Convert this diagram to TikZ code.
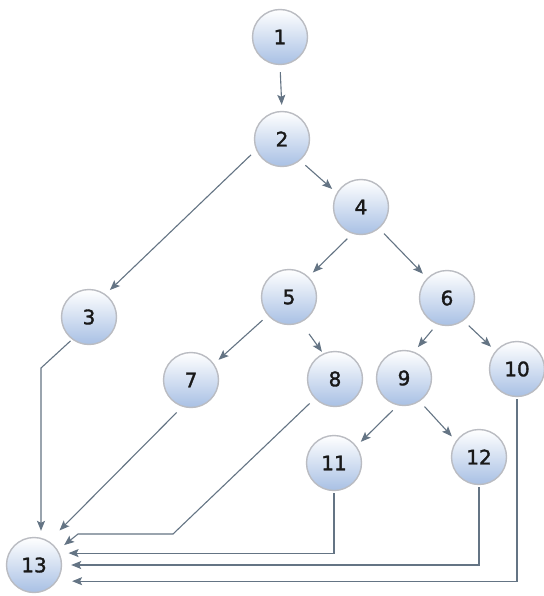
\documentclass[tikz,border=0pt]{standalone}
\usepackage{fontspec}
\usepackage{xcolor}
\usetikzlibrary{shapes,arrows.meta,positioning,calc}
\newfontfamily\nodefont[FakeBold=1.6]{DejaVu Sans}
\definecolor{nodeblue}{RGB}{168,192,228}
\definecolor{nodeedge}{RGB}{186,188,194}
\definecolor{flowgray}{RGB}{100,116,132}

\begin{document}
\begin{tikzpicture}[x=1pt,y=-1pt]
  \tikzstyle{state}=[circle, draw=nodeedge, line width=1.4pt, top color=white, bottom color=nodeblue, minimum size=55pt, inner sep=0pt, text=black!90, font=\nodefont\fontsize{20}{24}\selectfont]
  \tikzstyle{flow}=[-{Stealth[length=10pt,width=8pt,inset=2pt]}, line width=1.1pt, flowgray, shorten <=7pt, shorten >=6pt]
  \tikzstyle{back}=[-{Stealth[length=10pt,width=8pt,inset=2pt]}, line width=1.1pt, flowgray, shorten <=2pt]

  % Fondo
  \fill[white] (0,0) rectangle (543,596);
  \useasboundingbox (0,0) rectangle (543,596);

  % Nodos del grafo
  \node[state] (n1) at (280,37) {1};
  \node[state] (n2) at (282,139) {2};
  \node[state] (n3) at (89,317) {3};
  \node[state] (n4) at (361,207) {4};
  \node[state] (n5) at (289,297) {5};
  \node[state] (n6) at (447,298) {6};
  \node[state] (n7) at (191,380) {7};
  \node[state] (n8) at (335,379) {8};
  \node[state] (n9) at (404,378) {9};
  \node[state] (n10) at (517,369) {10};
  \node[state] (n11) at (334,463) {11};
  \node[state] (n12) at (479,457) {12};
  \node[state] (n13) at (34,565) {13};

  % Aristas hacia abajo
  \draw[flow] (n1.south) -- (n2.north);
  \draw[flow] (n2.203) -- (n3.54);
  \draw[flow] (n2.310) -- (n4.150);
  \draw[flow] (n4.252) -- (n5.46);
  \draw[flow] (n4.310) -- (n6.135);
  \draw[flow] (n5.221) -- (n7.35);
  \draw[flow, shorten <=14pt, shorten >=2pt] (n5.295) -- (n8.115);
  \draw[flow] (n6.249) -- (n9.69);
  \draw[flow] (n6.306) -- (n10.140);
  \draw[flow] (n9.257) -- (n11.37);
  \draw[flow] (n9.304) -- (n12.145);

  % Retornos al nodo 13
  \coordinate (c3) at (41,368);
  \coordinate (c8) at (173,534);
  \coordinate (c8b) at (78,534);
  \draw[back, shorten >=6pt] (n3.233) -- (c3) -- (c3 |- n13.north);
  \draw[back, shorten <=8pt, shorten >=15pt] (n7.252) -- (n13.58);
  \draw[back, shorten <=7pt, shorten >=8pt] (n8.224) -- (c8) -- (c8b) -- (n13.32);
  \draw[back, shorten >=9pt] (n11.south) |- (n13.25);
  \draw[back, shorten >=9pt] (n12.south) |- (n13.east);
  \draw[back, shorten >=15pt] (n10.south) |- (n13.-35);
\end{tikzpicture}
\end{document}
